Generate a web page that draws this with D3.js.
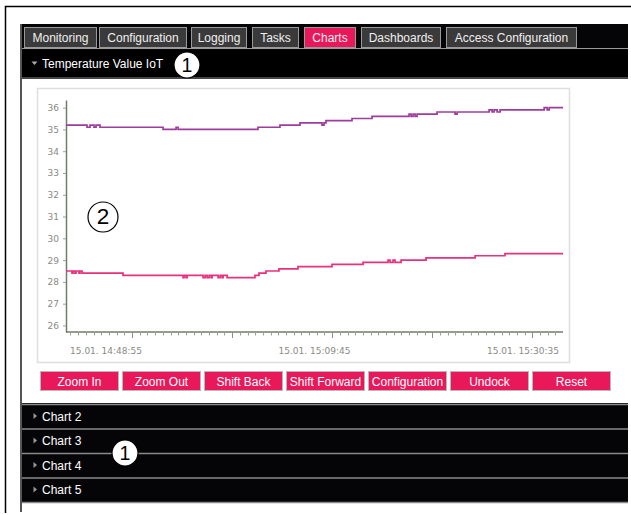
<!DOCTYPE html>
<html>
<head>
<meta charset="utf-8">
<script src="https://cdn.jsdelivr.net/npm/d3@7"></script>
<style>
  body { margin: 0; background: #fff; }
  svg { display: block; font-family: "Liberation Sans", Arial, sans-serif; }
</style>
</head>
<body>
<div id="area"></div>
<script>
// Data
var dateLabel = "15.01.";

var purpleTimes  = ["14:44:55","14:47:01","14:47:19","14:47:43","14:47:55","14:48:19","14:54:37","14:55:55","14:56:07",
                    "15:04:06","15:06:18","15:08:18","15:10:30","15:10:42","15:10:54","15:13:30","15:15:30","15:19:12",
                    "15:19:24","15:19:36","15:19:48","15:20:00","15:22:00","15:23:48","15:24:00","15:27:12","15:27:30",
                    "15:27:42","15:28:00","15:28:18","15:32:42","15:33:00","15:33:12","15:34:35"];
var purpleValues = [35.2,35.1,35.2,35.1,35.2,35.1,35.0,35.1,35.0,
                    35.1,35.2,35.3,35.2,35.3,35.4,35.5,35.6,35.7,
                    35.6,35.7,35.6,35.7,35.8,35.7,35.8,35.9,35.8,
                    35.9,35.8,35.9,36.0,35.9,36.0,36.0];

var pinkTimes  = ["14:44:55","14:45:31","14:45:37","14:45:49","14:45:55","14:46:13","14:46:19","14:46:31","14:50:37",
                  "14:56:37","14:56:43","14:56:55","14:57:01","14:58:37","14:58:49","14:59:01","14:59:13","14:59:25",
                  "14:59:31","15:00:07","15:00:19","15:00:31","15:00:37","15:01:01","15:03:48","15:04:12","15:04:54",
                  "15:06:12","15:08:06","15:11:30","15:14:36","15:17:06","15:17:18","15:17:36","15:17:48","15:18:24",
                  "15:20:54","15:25:48","15:28:47","15:34:35"];
var pinkValues = [28.5,28.4,28.5,28.4,28.5,28.4,28.5,28.4,28.3,
                  28.2,28.3,28.2,28.3,28.2,28.3,28.2,28.3,28.2,
                  28.3,28.2,28.3,28.2,28.3,28.2,28.3,28.4,28.5,
                  28.6,28.7,28.8,28.9,29.0,28.9,29.0,28.9,29.0,
                  29.1,29.2,29.3,29.3];

var yTicks = [26,27,28,29,30,31,32,33,34,35,36];
var xDomain = ["14:44:55","15:34:35"];
var xLabelTimes = ["14:48:55","15:09:45","15:30:35"];
var xMajorTimes = ["14:51:31","15:01:31","15:11:31","15:21:31","15:31:31"];

var tabs = ["Monitoring","Configuration","Logging","Tasks","Charts","Dashboards","Access Configuration"];
var tabLeft  = [24, 99, 191, 252, 304, 361, 446];
var tabRight = [96, 186, 246, 298, 355, 440, 576];
var buttons = ["Zoom In","Zoom Out","Shift Back","Shift Forward","Configuration","Undock","Reset"];
var otherCharts = ["Chart 2","Chart 3","Chart 4","Chart 5"];

var pink = "#e8185a";
var parse = d3.timeParse("%H:%M:%S");
var fmt = d3.timeFormat("%H:%M:%S");

var svg = d3.select("#area").append("svg")
  .attr("width", 631)
  .attr("height", 515);

// outer frame
svg.append("path")
  .attr("d", "M5.5,513 V6.5 H640")
  .attr("fill", "none").attr("stroke", "#000").attr("stroke-width", 1.5);

// dark panel
svg.append("rect").attr("x", 20).attr("y", 24).attr("width", 608).attr("height", 479).attr("fill", "#050508");
svg.append("line").attr("x1", 21).attr("x2", 21).attr("y1", 24).attr("y2", 512)
  .attr("stroke", "#555").attr("stroke-width", 2);
svg.append("line").attr("x1", 22).attr("x2", 628).attr("y1", 48.5).attr("y2", 48.5)
  .attr("stroke", "#999").attr("stroke-width", 1);

// tabs
var tab = svg.append("g").selectAll("g").data(tabs).enter().append("g");
tab.append("rect")
  .attr("x", function(d, i){ return tabLeft[i] + 0.5; })
  .attr("y", 27.5)
  .attr("width", function(d, i){ return tabRight[i] - tabLeft[i]; })
  .attr("height", 20)
  .attr("fill", function(d){ return d == "Charts" ? pink : "#3a3a3a"; })
  .attr("stroke", "#9a9a9a");
tab.append("text")
  .attr("x", function(d, i){ return (tabLeft[i] + tabRight[i]) / 2 + 0.5; })
  .attr("y", 42)
  .attr("text-anchor", "middle")
  .attr("font-size", 12)
  .attr("fill", "#f0f0f0")
  .text(function(d){ return d; });

// header of the open chart
svg.append("rect").attr("x", 22).attr("y", 50).attr("width", 606).attr("height", 28).attr("fill", "#000");
svg.append("line").attr("x1", 22).attr("x2", 628).attr("y1", 78).attr("y2", 78).attr("stroke", "#888");
svg.append("path").attr("d", "M31.5,61.5 h6 l-3,3.5 z").attr("fill", "#aaa");
svg.append("text").attr("x", 42).attr("y", 68).attr("font-size", 12).attr("fill", "#fff")
  .text("Temperature Value IoT");

// white content area
svg.append("rect").attr("x", 22).attr("y", 79).attr("width", 606).attr("height", 324).attr("fill", "#fff");

// chart frame
svg.append("rect").attr("x", 37.5).attr("y", 88.5).attr("width", 532).attr("height", 274)
  .attr("fill", "#fff").attr("stroke", "#dcdee0").attr("stroke-width", 1.5);

// scales
var x = d3.scaleTime().domain(xDomain.map(parse)).range([66, 563]);
var y = d3.scaleLinear().domain([25.7, 36.35]).range([332, 100]);

var axisColor = "#727b6c";
var labelColor = "#8a8a84";

// y axis
var yAxis = svg.append("g")
  .attr("transform", "translate(66,0)")
  .call(d3.axisLeft(y).tickValues(yTicks).tickSize(3).tickPadding(4).tickSizeOuter(0));
yAxis.select(".domain").attr("stroke", axisColor).attr("stroke-width", 1.5);
yAxis.selectAll(".tick line").attr("stroke", "#9aa092");
yAxis.selectAll(".tick text")
  .attr("fill", labelColor)
  .attr("font-family", "DejaVu Sans, sans-serif")
  .attr("font-size", 9);

// x axis: minor ticks, major ticks, labels
var xg = svg.append("g").attr("transform", "translate(0,332)");
xg.append("line").attr("x1", 66).attr("x2", 563).attr("stroke", axisColor).attr("stroke-width", 1.5);

var major = xMajorTimes.map(parse);
var step = 600000 / 13;
var minor = d3.range(-20, 60).map(function(k){ return new Date(+major[0] + k * step); })
  .filter(function(d){ return x(d) > 67 && x(d) <= 563; });

xg.selectAll(".minor").data(minor).enter().append("line")
  .attr("class", "minor")
  .attr("x1", function(d){ return Math.round(x(d)) + 0.5; })
  .attr("x2", function(d){ return Math.round(x(d)) + 0.5; })
  .attr("y1", 0).attr("y2", 3.5)
  .attr("stroke", "#9aa092");
xg.selectAll(".major").data(major).enter().append("line")
  .attr("class", "major")
  .attr("x1", function(d){ return Math.round(x(d)) + 0.5; })
  .attr("x2", function(d){ return Math.round(x(d)) + 0.5; })
  .attr("y1", 0).attr("y2", 6)
  .attr("stroke", "#8a9082");
xg.selectAll(".lab").data(xLabelTimes.map(parse)).enter().append("text")
  .attr("class", "lab")
  .attr("x", function(d){ return x(d); })
  .attr("y", 22)
  .attr("text-anchor", "middle")
  .attr("font-family", "DejaVu Sans, sans-serif")
  .attr("font-size", 9)
  .attr("fill", labelColor)
  .text(function(d){ return dateLabel + " " + fmt(d); });

// series
var line = d3.line()
  .x(function(d){ return x(d.t); })
  .y(function(d){ return y(d.v); })
  .curve(d3.curveStepAfter);

var series = [
  { color: "#9e3c9e", data: purpleTimes.map(function(t, i){ return { t: parse(t), v: purpleValues[i] }; }) },
  { color: "#e8307c", data: pinkTimes.map(function(t, i){ return { t: parse(t), v: pinkValues[i] }; }) }
];

svg.append("g").selectAll("path").data(series).enter().append("path")
  .attr("d", function(d){ return line(d.data); })
  .attr("fill", "none")
  .attr("stroke", function(d){ return d.color; })
  .attr("stroke-width", 1.7);

// buttons
var btn = svg.append("g").selectAll("g").data(buttons).enter().append("g");
btn.append("rect")
  .attr("x", function(d, i){ return 40.5 + i * 82; })
  .attr("y", 371.5)
  .attr("width", 78).attr("height", 19)
  .attr("fill", pink).attr("stroke", "#b8b8b8");
btn.append("text")
  .attr("x", function(d, i){ return 79.5 + i * 82; })
  .attr("y", 385.5)
  .attr("text-anchor", "middle")
  .attr("font-size", 12)
  .attr("fill", "#fff")
  .text(function(d){ return d; });

// collapsed charts
var row = svg.append("g").selectAll("g").data(otherCharts).enter().append("g")
  .attr("transform", function(d, i){ return "translate(0," + (404 + i * 24.5) + ")"; });
row.append("line").attr("x1", 22).attr("x2", 628).attr("y1", 0.5).attr("y2", 0.5)
  .attr("stroke", "#8a8a8a").attr("stroke-width", 1.5);
row.append("path").attr("d", "M33.5,9 v6 l3.5,-3 z").attr("fill", "#999");
row.append("text").attr("x", 42).attr("y", 16.5).attr("font-size", 12).attr("fill", "#fff")
  .text(function(d){ return d; });
svg.append("line").attr("x1", 22).attr("x2", 628).attr("y1", 502.5).attr("y2", 502.5)
  .attr("stroke", "#8a8a8a").attr("stroke-width", 1.5);

// callout circles
var callouts = [
  { cx: 187, cy: 65, r: 13, label: "1" },
  { cx: 103, cy: 217, r: 15, label: "2" },
  { cx: 125, cy: 453, r: 13, label: "1" }
];
var co = svg.append("g").selectAll("g").data(callouts).enter().append("g");
co.append("circle")
  .attr("cx", function(d){ return d.cx; }).attr("cy", function(d){ return d.cy; })
  .attr("r", function(d){ return d.r; })
  .attr("fill", "#fff").attr("stroke", "#000").attr("stroke-width", 1.2);
co.append("text")
  .attr("x", function(d){ return d.cx; }).attr("y", function(d){ return d.cy + 7; })
  .attr("text-anchor", "middle")
  .attr("font-size", function(d){ return d.r * 1.5; })
  .attr("fill", "#000")
  .text(function(d){ return d.label; });
</script>
</body>
</html>
